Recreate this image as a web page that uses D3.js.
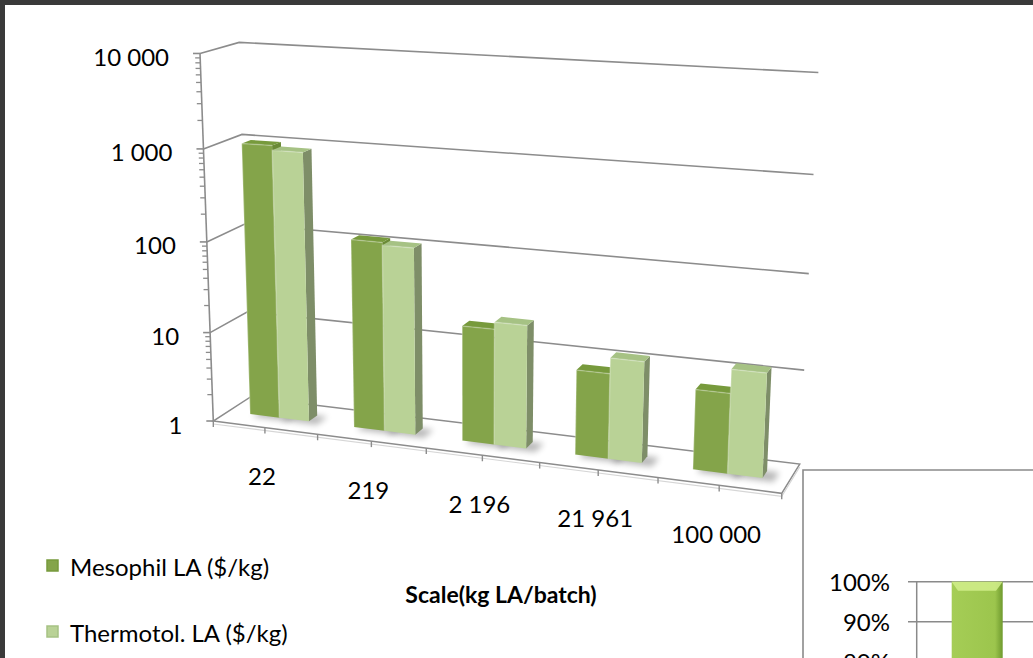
<!DOCTYPE html>
<html>
<head>
<meta charset="utf-8">
<script src="https://cdn.jsdelivr.net/npm/d3@7"></script>
<style>
  body { margin: 0; background: #fff; }
  svg text { font-family: Lato, "Open Sans", sans-serif; fill: #000; }
</style>
</head>
<body>
<svg id="chart" width="1033" height="658"></svg>
<script>

// Chart values
var categories = ["22", "219", "2 196", "21 961", "100 000"];
var seriesNames = ["Mesophil LA ($/kg)", "Thermotol. LA ($/kg)"];
var mesophil = [1030, 118, 18, 8.2, 7.0];
var thermotol = [920, 110, 21.5, 12, 12.5];
var yTicks = [1, 10, 100, 1000, 10000];
var yTickLabels = ["1", "10", "100", "1 000", "10 000"];
var axisTitle = "Scale(kg LA/batch)";

// Second chart peeking in at the bottom right
var insetTicks = [1, 0.9, 0.8];
var insetTickLabels = ["100%", "90%", "80%"];
var insetValues = [1];

// Where the corners of the 3D box land on the page:
// [category units, decades, depth, px x, px y]
var boxAnchors = [
  [0, 4, 0, 198.3, 54], [0, 3, 0, 201.7, 148.3], [0, 2, 0, 207.3, 241.7],
  [0, 1, 0, 210.7, 330.7], [0, 0, 0, 216.7, 419.3],
  [0, 4, 1, 240, 42.7], [0, 3, 1, 245, 134], [0, 1, 1, 245, 312.7], [0, 0, 1, 248.3, 398.3],
  [5, 4, 1, 818.3, 72.7], [5, 3, 1, 813.3, 175], [5, 2, 1, 809.3, 273.3],
  [5, 1, 1, 804.3, 370], [5, 0, 1, 800, 461.7],
  [1, 0, 0, 316.7, 435], [2, 0, 0, 426.7, 450], [3, 0, 0, 540, 462.5],
  [4, 0, 0, 657, 478.5], [5, 0, 0, 781.7, 494]
];

// Fit a 3x4 projective camera to the anchors (least squares)
function fitProjection(pts) {
  var A = [], b = [];
  pts.forEach(function(d) {
    var X = d[0], Y = d[1], Z = d[2], u = (d[3] - 500) / 300, v = (d[4] - 300) / 300;
    A.push([X, Y, Z, 1, 0, 0, 0, 0, -u * X, -u * Y, -u * Z]); b.push(u);
    A.push([0, 0, 0, 0, X, Y, Z, 1, -v * X, -v * Y, -v * Z]); b.push(v);
  });
  var n = 11, M = [], r = [];
  for (var i = 0; i < n; i++) {
    M[i] = [];
    for (var j = 0; j < n; j++) {
      var s = 0;
      for (var k = 0; k < A.length; k++) s += A[k][i] * A[k][j];
      M[i][j] = s;
    }
    var t = 0;
    for (var k = 0; k < A.length; k++) t += A[k][i] * b[k];
    r[i] = t;
  }
  var p = solve(M, r);
  return function(X, Y, Z) {
    var w = p[8] * X + p[9] * Y + p[10] * Z + 1;
    return [500 + 300 * (p[0] * X + p[1] * Y + p[2] * Z + p[3]) / w,
            300 + 300 * (p[4] * X + p[5] * Y + p[6] * Z + p[7]) / w];
  };
}

function solve(M, r) {
  var n = r.length;
  for (var i = 0; i < n; i++) {
    var p = i;
    for (var k = i + 1; k < n; k++) if (Math.abs(M[k][i]) > Math.abs(M[p][i])) p = k;
    var tm = M[i]; M[i] = M[p]; M[p] = tm;
    var tr = r[i]; r[i] = r[p]; r[p] = tr;
    for (var k = i + 1; k < n; k++) {
      var f = M[k][i] / M[i][i];
      for (var j = i; j < n; j++) M[k][j] -= f * M[i][j];
      r[k] -= f * r[i];
    }
  }
  var x = new Array(n);
  for (var i = n - 1; i >= 0; i--) {
    var s = r[i];
    for (var j = i + 1; j < n; j++) s -= M[i][j] * x[j];
    x[i] = s / M[i][i];
  }
  return x;
}

var proj = fitProjection(boxAnchors);
var line = d3.line();
function poly(pts) { return line(pts) + "Z"; }

var svg = d3.select("#chart");
var defs = svg.append("defs");
defs.append("filter").attr("id", "blur")
    .attr("x", "-50%").attr("y", "-50%").attr("width", "200%").attr("height", "200%")
  .append("feGaussianBlur").attr("stdDeviation", 3);

// Scales: categories along x, log value along height, depth 0..1
var x = d3.scaleBand().domain(categories).range([0, 5])
    .paddingInner(1.5 / 3.5).paddingOuter(0.75 / 3.5);
var xs = d3.scaleBand().domain(seriesNames).range([0, x.bandwidth()]);
var y = d3.scaleLog().domain([1, 10000]).range([0, 4]);
var z0 = 0.4, z1 = 0.64;

var gridColor = "#8c8c8c";
var g = svg.append("g");

// Floor
g.append("path")
    .attr("d", poly([proj(0, 0, 0), proj(5, 0, 0), proj(5, 0, 1), proj(0, 0, 1)]))
    .attr("fill", "#fff").attr("stroke", gridColor).attr("stroke-width", 1.5);
g.append("path")
    .attr("d", line([proj(0, 0, 0), proj(5, 0, 0), proj(5, 0, 1)].map(function(p) { return [p[0], p[1] + 3]; })))
    .attr("fill", "none").attr("stroke", "#d6d6d6").attr("stroke-width", 1.2);

// Gridlines on the side and back walls
yTicks.slice(1).forEach(function(t) {
  var h = y(t);
  g.append("path")
      .attr("d", line([proj(0, h, 0), proj(0, h, 1), proj(5, h, 1)]))
      .attr("fill", "none").attr("stroke", gridColor).attr("stroke-width", 1.6);
});

// Bars
var series = [
  {name: seriesNames[0], values: mesophil, front: "#84a44a", side: "#6a8a36", top: "#779a3c"},
  {name: seriesNames[1], values: thermotol, front: "#b9d296", side: "#7e8e68", top: "#a6c284"}
];

var bars = [];
categories.forEach(function(c, i) {
  series.forEach(function(s) {
    var a = x(c) + xs(s.name), b = a + xs.bandwidth(), h = y(s.values[i]);
    bars.push({a: a, b: b, h: h, s: s});
  });
});

// soft shadows on the floor
g.selectAll(".shadow").data(bars).enter().append("path")
    .attr("class", "shadow")
    .attr("d", function(d) {
      return poly([proj(d.a + 0.05, 0, z0 - 0.08), proj(d.b + 0.1, 0, z0 - 0.08),
                   proj(d.b + 0.1, 0, z1), proj(d.a + 0.05, 0, z1)]);
    })
    .attr("fill", "#000").attr("opacity", 0.28).attr("filter", "url(#blur)");

var barG = g.selectAll(".bar").data(bars).enter().append("g").attr("class", "bar");
barG.append("path")
    .attr("d", function(d) { return poly([proj(d.b, 0, z0), proj(d.b, 0, z1), proj(d.b, d.h, z1), proj(d.b, d.h, z0)]); })
    .attr("fill", function(d) { return d.s.side; });
barG.append("path")
    .attr("d", function(d) { return poly([proj(d.a, 0, z0), proj(d.b, 0, z0), proj(d.b, d.h, z0), proj(d.a, d.h, z0)]); })
    .attr("fill", function(d) { return d.s.front; });
barG.append("path")
    .attr("d", function(d) { return poly([proj(d.a, d.h, z0), proj(d.b, d.h, z0), proj(d.b, d.h, z1), proj(d.a, d.h, z1)]); })
    .attr("fill", function(d) { return d.s.top; });
// thin edge highlight on the front face
barG.append("path")
    .attr("d", function(d) { return line([proj(d.a, 0, z0), proj(d.a, d.h, z0), proj(d.b, d.h, z0)]); })
    .attr("fill", "none").attr("stroke", "#fff").attr("stroke-opacity", 0.25).attr("stroke-width", 1.5);

// Value axis with log ticks
var ax = svg.append("g");
ax.append("path")
    .attr("d", line([proj(0, 0, 0), proj(0, 4, 0)]))
    .attr("stroke", gridColor).attr("stroke-width", 1.6);

var minor = [];
for (var e = 0; e < 4; e++) for (var m = 2; m < 10; m++) minor.push(m * Math.pow(10, e));
ax.selectAll(".minor").data(minor).enter().append("line")
    .attr("x1", function(d) { return proj(0, y(d), 0)[0] - 5; })
    .attr("x2", function(d) { return proj(0, y(d), 0)[0]; })
    .attr("y1", function(d) { return proj(0, y(d), 0)[1]; })
    .attr("y2", function(d) { return proj(0, y(d), 0)[1]; })
    .attr("stroke", gridColor).attr("stroke-width", 1.3);
ax.selectAll(".major").data(yTicks).enter().append("line")
    .attr("x1", function(d) { return proj(0, y(d), 0)[0] - 7; })
    .attr("x2", function(d) { return proj(0, y(d), 0)[0]; })
    .attr("y1", function(d) { return proj(0, y(d), 0)[1]; })
    .attr("y2", function(d) { return proj(0, y(d), 0)[1]; })
    .attr("stroke", gridColor).attr("stroke-width", 1.6);
ax.selectAll(".ylab").data(yTicks).enter().append("text")
    .attr("x", function(d) { return proj(0, y(d), 0)[0] - 31; })
    .attr("y", function(d) { return proj(0, y(d), 0)[1] + 3; })
    .attr("text-anchor", "end").attr("dominant-baseline", "central")
    .style("font-size", "24px")
    .text(function(d, i) { return yTickLabels[i]; });

// Category axis ticks (every half category) and labels
var catTicks = d3.range(0, 5.01, 0.5);
ax.selectAll(".xtick").data(catTicks).enter().append("line")
    .attr("x1", function(d) { return proj(d, 0, 0)[0]; })
    .attr("x2", function(d) { return proj(d, 0, 0)[0]; })
    .attr("y1", function(d) { return proj(d, 0, 0)[1]; })
    .attr("y2", function(d) { return proj(d, 0, 0)[1] + 6; })
    .attr("stroke", gridColor).attr("stroke-width", 1.4);
ax.selectAll(".xlab").data(categories).enter().append("text")
    .attr("x", function(d) { return proj(x(d) + x.bandwidth() / 2, 0, 0)[0] - 3; })
    .attr("y", function(d) { return proj(x(d) + x.bandwidth() / 2, 0, 0)[1] + 48; })
    .attr("text-anchor", "middle").attr("dominant-baseline", "central")
    .style("font-size", "24px")
    .text(function(d) { return d; });

svg.append("text")
    .attr("x", 501).attr("y", 594)
    .attr("text-anchor", "middle").attr("dominant-baseline", "central")
    .style("font-size", "23px").style("font-weight", "bold")
    .text(axisTitle);

// Legend
var lg = svg.selectAll(".legend").data(series).enter().append("g")
    .attr("class", "legend")
    .attr("transform", function(d, i) { return "translate(47," + (560 + i * 66) + ")"; });
lg.append("rect").attr("width", 11).attr("height", 11)
    .attr("fill", function(d) { return d.front; })
    .attr("stroke", function(d) { return d.top; }).attr("stroke-width", 1.5);
lg.append("text").attr("x", 23).attr("y", 6)
    .attr("dominant-baseline", "central")
    .style("font-size", "24px")
    .text(function(d) { return d.name; });

// Inset chart (cut off by the page edge)
var inset = svg.append("g");
var iy = d3.scaleLinear().domain([0.9, 1]).range([621.7, 581.7]);
inset.append("path")
    .attr("d", "M803,700V470H1040")
    .attr("fill", "none").attr("stroke", "#8a8a8a").attr("stroke-width", 1.6);
inset.selectAll(".igrid").data(insetTicks).enter().append("line")
    .attr("x1", 908).attr("x2", 1040)
    .attr("y1", function(d) { return iy(d); }).attr("y2", function(d) { return iy(d); })
    .attr("stroke", "#8a8a8a").attr("stroke-width", 1.5);
inset.append("line").attr("x1", 916.7).attr("x2", 916.7)
    .attr("y1", iy(1)).attr("y2", 700)
    .attr("stroke", "#8a8a8a").attr("stroke-width", 1.5);
inset.selectAll(".ilab").data(insetTicks).enter().append("text")
    .attr("x", 890).attr("y", function(d) { return iy(d); })
    .attr("text-anchor", "end").attr("dominant-baseline", "central")
    .style("font-size", "24px")
    .text(function(d, i) { return insetTickLabels[i]; });

var ig = defs.append("linearGradient").attr("id", "insetBar");
ig.append("stop").attr("offset", "0%").attr("stop-color", "#a5cd56");
ig.append("stop").attr("offset", "85%").attr("stop-color", "#9cc54d");
ig.append("stop").attr("offset", "100%").attr("stop-color", "#6f9a2e");
inset.selectAll(".ibar").data(insetValues).enter().append("rect")
    .attr("x", 951.7).attr("width", 51)
    .attr("y", function(d) { return iy(d); })
    .attr("height", function(d) { return 700 - iy(d); })
    .attr("fill", "url(#insetBar)");
inset.selectAll(".ibevel").data(insetValues).enter().append("path")
    .attr("d", function(d) { var t = iy(d); return "M951.7," + t + "H1002.7L996," + (t + 9) + "H958Z"; })
    .attr("fill", "#d2ef8c").attr("opacity", 0.85);

// Dark frame along the top and left edges
svg.append("rect").attr("width", 1033).attr("height", 5).attr("fill", "#3a3a3a");
svg.append("rect").attr("width", 5).attr("height", 658).attr("fill", "#3a3a3a");

</script>
</body>
</html>
